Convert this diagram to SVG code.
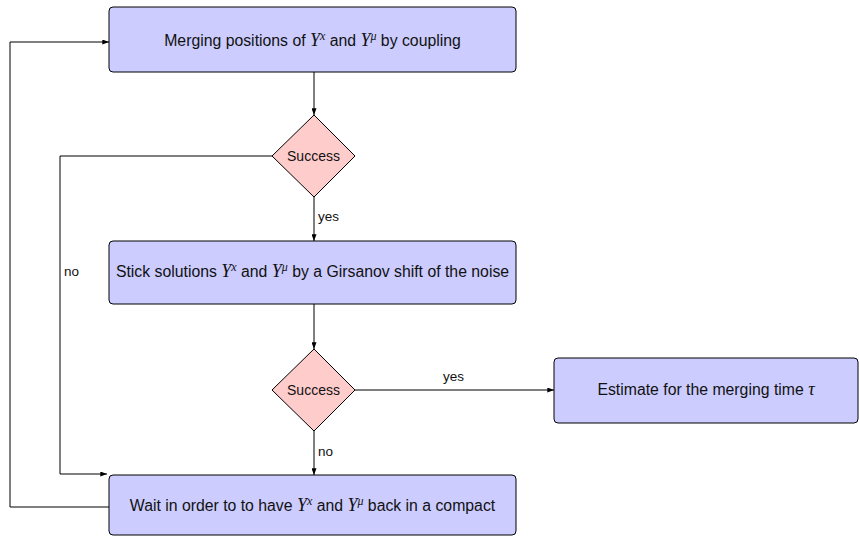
<svg xmlns="http://www.w3.org/2000/svg" width="859" height="538" viewBox="0 0 859 538">
<style>
  .box { fill: #ccccff; stroke: #000; stroke-width: 1; }
  .dia { fill: #ffcccc; stroke: #000; stroke-width: 1; }
  .edge { fill: none; stroke: #000; stroke-width: 1; }
  text { font-family: "Liberation Sans", "DejaVu Sans", sans-serif; font-size: 15.8px; fill: #111; }
  .lbl { font-size: 13.5px; }
  .dt { font-size: 14px; }
  .c { text-anchor: middle; }
  .m { font-family: "Liberation Serif", serif; font-style: italic; font-size: 18px; }
  .s { font-family: "Liberation Serif", serif; font-style: italic; font-size: 12px; }
</style>
<defs>
  <marker id="arr" viewBox="0 0 8 6" refX="8" refY="3" markerWidth="7" markerHeight="5" orient="auto" markerUnits="userSpaceOnUse">
    <path d="M0,0 L8,3 L0,6 Z" fill="#000"/>
  </marker>
</defs>
<rect width="859" height="538" fill="#fff"/>

<g id="connectors">
  <path class="edge" d="M314,72 L314,115" marker-end="url(#arr)"/>
  <path class="edge" d="M314,197 L314,241" marker-end="url(#arr)"/>
  <path class="edge" d="M314,304 L314,349" marker-end="url(#arr)"/>
  <path class="edge" d="M355,390 L554,390" marker-end="url(#arr)"/>
  <path class="edge" d="M314,431 L314,475" marker-end="url(#arr)"/>
  <path class="edge" d="M272,156 L60,156 L60,474 L107,474" marker-end="url(#arr)"/>
  <path class="edge" d="M109,507 L10,507 L10,42 L109,42" marker-end="url(#arr)"/>
  <text class="lbl" x="318" y="221">yes</text>
  <text class="lbl" x="443" y="381">yes</text>
  <text class="lbl" x="318" y="456">no</text>
  <text class="lbl" x="64" y="276">no</text>
</g>

<g id="merge">
  <rect class="box" x="109" y="7" width="407" height="65" rx="4"/>
  <text class="c" x="312.5" y="46">Merging positions of <tspan class="m">Y</tspan><tspan class="s" dy="-6">x</tspan><tspan dy="6"> and </tspan><tspan class="m">Y</tspan><tspan class="s" dy="-6">μ</tspan><tspan dy="6"> by coupling</tspan></text>
</g>

<g id="success1">
  <polygon class="dia" points="314,115 355,156 314,197 272,156"/>
  <text class="c dt" x="313.5" y="161">Success</text>
</g>

<g id="stick">
  <rect class="box" x="109" y="241" width="407" height="63" rx="4"/>
  <text class="c" x="312.5" y="277">Stick solutions <tspan class="m">Y</tspan><tspan class="s" dy="-6">x</tspan><tspan dy="6"> and </tspan><tspan class="m">Y</tspan><tspan class="s" dy="-6">μ</tspan><tspan dy="6"> by a Girsanov shift of the noise</tspan></text>
</g>

<g id="success2">
  <polygon class="dia" points="314,349 355,390 314,431 272,390"/>
  <text class="c dt" x="313.5" y="395">Success</text>
</g>

<g id="estimate">
  <rect class="box" x="554" y="358" width="304" height="65" rx="4"/>
  <text class="c" x="706" y="395">Estimate for the merging time <tspan class="m">τ</tspan></text>
</g>

<g id="wait">
  <rect class="box" x="109" y="475" width="407" height="60" rx="4"/>
  <text class="c" x="312.5" y="511">Wait in order to to have <tspan class="m">Y</tspan><tspan class="s" dy="-6">x</tspan><tspan dy="6"> and </tspan><tspan class="m">Y</tspan><tspan class="s" dy="-6">μ</tspan><tspan dy="6"> back in a compact</tspan></text>
</g>
</svg>
